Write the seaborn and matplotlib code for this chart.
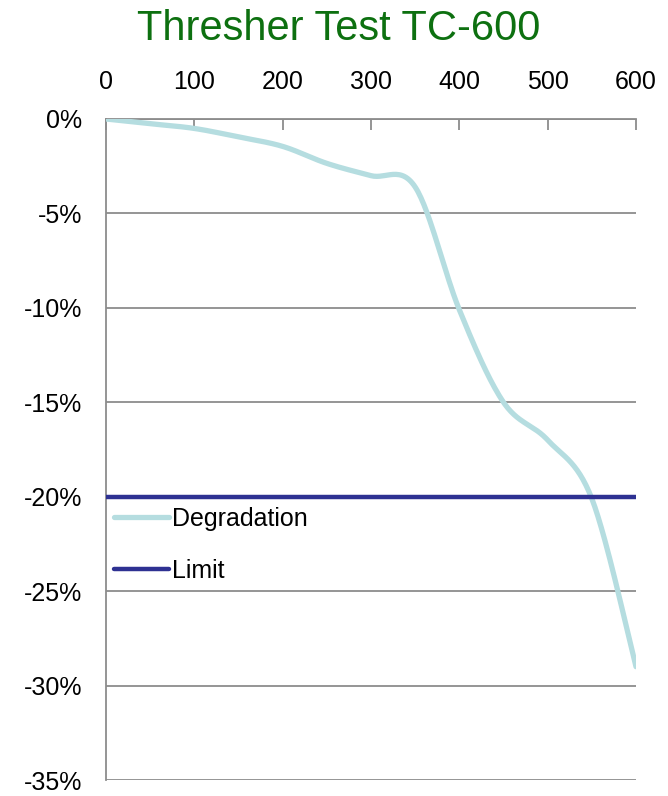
import numpy as np
import pandas as pd
import matplotlib
matplotlib.use("Agg")
import matplotlib.pyplot as plt
import seaborn as sns

# Test readings: cycles vs. percentage degradation
cycles = [0, 50, 100, 150, 200, 250, 300, 350, 400, 450, 500, 550, 600]
degradation = [0.0, -0.25, -0.5, -0.95, -1.45, -2.35, -3.0, -3.6, -10.1, -15.0, -17.0, -20.1, -29.0]
limit_value = -20.0
x_ticks = [0, 100, 200, 300, 400, 500, 600]
y_ticks = [0, -5, -10, -15, -20, -25, -30, -35]

TITLE = "Thresher Test TC-600"
CURVE_COLOR = "#b5dde0"
LIMIT_COLOR = "#2e3192"
GRID_COLOR = "#8c8c8c"


def smooth_path(xs, ys, steps=30):
    """Catmull-Rom curve through the given points (smoothed line rendering)."""
    xs = np.asarray(xs, float)
    ys = np.asarray(ys, float)
    px = np.concatenate([[xs[0]], xs, [xs[-1]]])
    py = np.concatenate([[ys[0]], ys, [ys[-1]]])
    out_x, out_y = [], []
    for i in range(1, len(px) - 2):
        t = np.linspace(0, 1, steps, endpoint=False)
        h00 = 2 * t**3 - 3 * t**2 + 1
        h10 = t**3 - 2 * t**2 + t
        h01 = -2 * t**3 + 3 * t**2
        h11 = t**3 - t**2
        mx0, mx1 = (px[i + 1] - px[i - 1]) / 2, (px[i + 2] - px[i]) / 2
        my0, my1 = (py[i + 1] - py[i - 1]) / 2, (py[i + 2] - py[i]) / 2
        out_x.extend(h00 * px[i] + h10 * mx0 + h01 * px[i + 1] + h11 * mx1)
        out_y.extend(h00 * py[i] + h10 * my0 + h01 * py[i + 1] + h11 * my1)
    out_x.append(xs[-1])
    out_y.append(ys[-1])
    return np.array(out_x), np.array(out_y)


sns.set_style("white")
plt.rcParams["font.family"] = ["Liberation Sans", "DejaVu Sans"]
plt.rcParams["text.color"] = "black"

sx, sy = smooth_path(cycles, degradation)
curve_df = pd.DataFrame({"cycles": sx, "value": sy, "series": "Degradation"})
limit_df = pd.DataFrame({"cycles": [cycles[0], cycles[-1]],
                         "value": [limit_value, limit_value], "series": "Limit"})

fig = plt.figure(figsize=(6.68, 7.96), dpi=100)
ax = fig.add_axes([106 / 668, 16 / 796, 530 / 668, 661 / 796])

# horizontal grid
for v in y_ticks:
    ax.axhline(v, color=GRID_COLOR, lw=1.3, zorder=0)

sns.lineplot(data=curve_df, x="cycles", y="value", sort=False, color=CURVE_COLOR,
             lw=3.8, ax=ax, label="Degradation", solid_capstyle="round", zorder=3)
sns.lineplot(data=limit_df, x="cycles", y="value", color=LIMIT_COLOR,
             lw=3.2, ax=ax, label="Limit", solid_capstyle="round", zorder=4)

ax.set_xlim(0, 600)
ax.set_ylim(-35, 0)
ax.set_xticks(x_ticks)
ax.set_yticks(y_ticks)
ax.set_yticklabels([f"{v}%" for v in y_ticks])
ax.xaxis.tick_top()
ax.tick_params(axis="x", direction="in", length=8, width=1.3, color=GRID_COLOR,
               labelsize=18, pad=18, labelcolor="black")
ax.tick_params(axis="y", direction="out", length=8, width=1.3, color=GRID_COLOR,
               labelsize=18, pad=9, labelcolor="black")
ax.set_xlabel("")
ax.set_ylabel("")

for side in ["right", "bottom"]:
    ax.spines[side].set_visible(False)
for side in ["left", "top"]:
    ax.spines[side].set_color(GRID_COLOR)
    ax.spines[side].set_linewidth(1.3)

leg = ax.legend(loc="upper left", bbox_to_anchor=(0.0, 0.424), frameon=False,
                fontsize=18, handlelength=2.2, handletextpad=0.15, labelspacing=1.1,
                borderaxespad=0.0, borderpad=0.3)
for h in leg.get_lines():
    h.set_solid_capstyle("round")

fig.text(0.5 * (138 + 540) / 668, 1 - 29 / 796, TITLE, ha="center", va="center",
         fontsize=30, color="#0d7010")

fig.savefig("out.png", dpi=100)
